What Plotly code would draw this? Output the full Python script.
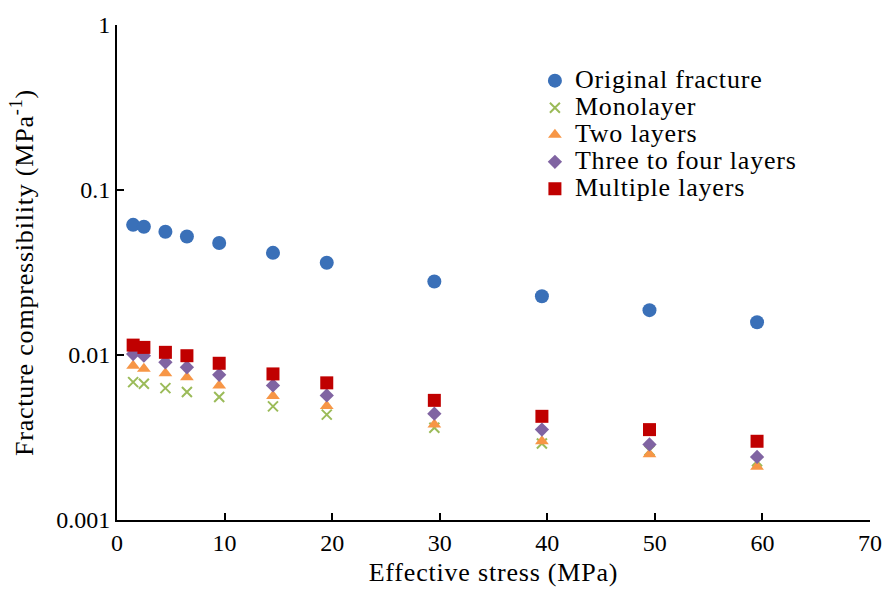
import plotly.graph_objects as go

# Effective stress levels (MPa)
stress = [1.5, 2.5, 4.5, 6.5, 9.5, 14.5, 19.5, 29.5, 39.5, 49.5, 59.5]

# Fracture compressibility (MPa^-1) for each fracture type
original = [0.0615, 0.0599, 0.0558, 0.0523, 0.0477, 0.0416, 0.0362, 0.0279, 0.0227, 0.0187, 0.0158]
monolayer = [0.00685, 0.00669, 0.00630, 0.00596, 0.00556, 0.00488, 0.00435, 0.00362, 0.00291, 0.00264, 0.00227]
two_layers = [0.00862, 0.00824, 0.00776, 0.00734, 0.00654, 0.00564, 0.00491, 0.00379, 0.00300, 0.00250, 0.00210]
three_four = [0.01014, 0.00990, 0.00904, 0.00843, 0.00758, 0.00654, 0.00569, 0.00441, 0.00353, 0.00287, 0.00241]
multiple = [0.01148, 0.01112, 0.01038, 0.00990, 0.00891, 0.00768, 0.00678, 0.00531, 0.00425, 0.00353, 0.00300]

series = [
    ("Original fracture", original, "circle", "#3A70B8", 14),
    ("Monolayer", monolayer, "x-thin", "#9BBB59", 10),
    ("Two layers", two_layers, "triangle-up", "#F79646", 12),
    ("Three to four layers", three_four, "diamond", "#8064A2", 11),
    ("Multiple layers", multiple, "square", "#C00000", 13),
]

font_family = "Liberation Serif, Times New Roman, serif"
wide = "letter-spacing:0.8px"

fig = go.Figure()
for name, vals, sym, col, size in series:
    marker = dict(symbol=sym, color=col, size=size)
    if sym == "x-thin":
        marker["line"] = dict(color=col, width=2)
    fig.add_trace(go.Scatter(
        x=stress, y=vals, mode="markers",
        # larger label text inside a tighter legend row pitch
        name=f'<span style="font-size:26px;{wide}">{name}</span>',
        marker=marker,
    ))

fig.update_layout(
    width=894,
    height=594,
    margin=dict(l=117, r=15, t=24, b=73),
    paper_bgcolor="white",
    plot_bgcolor="white",
    font=dict(family=font_family, size=24, color="black"),
    legend=dict(
        x=0.555, y=0.925, xanchor="left", yanchor="top",
        font=dict(size=18.5, family=font_family), itemwidth=30, tracegroupgap=0,
        bgcolor="rgba(0,0,0,0)",
    ),
    xaxis=dict(
        range=[0, 70], dtick=10, showgrid=False, zeroline=False,
        showline=True, linecolor="black", linewidth=2,
        ticks="inside", ticklen=7, tickwidth=2, tickcolor="black",
        tickfont=dict(size=24),
        title=dict(text=f'<span style="{wide}">Effective stress (MPa)</span>',
                   font=dict(size=26), standoff=8),
    ),
    yaxis=dict(
        type="log", range=[-3, 0], showgrid=False, zeroline=False,
        showline=True, linecolor="black", linewidth=2,
        ticks="inside", ticklen=7, tickwidth=2, tickcolor="black",
        tickfont=dict(size=24),
        tickvals=[0.001, 0.01, 0.1, 1], ticktext=["0.001", "0.01", "0.1", "1"],
        title=dict(text=f'<span style="{wide}">Fracture compressibility (MPa<sup>-1</sup>)</span>',
                   font=dict(size=26), standoff=15),
    ),
)

fig.write_html("out.html")
